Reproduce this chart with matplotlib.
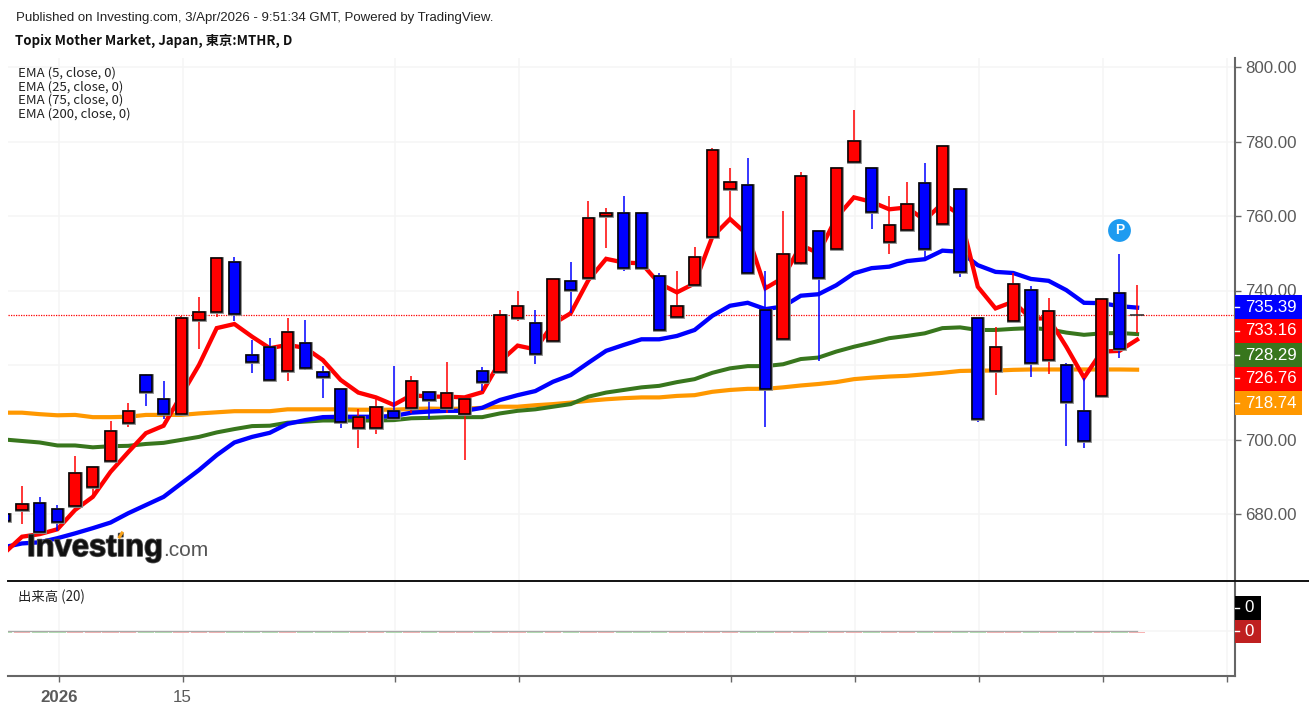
import matplotlib
matplotlib.use("Agg")
import matplotlib.pyplot as plt
from matplotlib.patches import Rectangle
from matplotlib.lines import Line2D
import matplotlib.patheffects as pe

W, H = 1309, 709
plt.rcParams['font.family'] = ['Liberation Sans', 'DejaVu Sans']

# ---------------------------------------------------------------- data
highs = [680.5,687.6,684.5,682.4,695.6,692.7,705.0,709.8,717.5,715.8,733.1,738.3,748.7,749.0,726.7,727.2,
         732.7,732.1,719.8,713.6,708.1,710.8,719.8,717.0,712.8,720.9,710.8,719.4,734.8,740.0,734.8,743.1,
         747.7,764.1,762.1,765.4,760.7,744.8,745.2,751.6,778.3,773.0,775.5,745.2,761.3,771.8,756.0,773.0,
         788.5,773.0,765.4,769.1,774.2,778.9,767.3,732.6,730.3,744.6,741.1,737.9,720.6,716.4,737.7,749.7,741.6]
tops = [680.0,682.7,683.0,681.4,691.1,692.7,702.4,707.6,717.3,710.9,732.6,734.2,748.7,747.7,722.6,724.9,
        728.9,725.8,718.0,713.6,706.0,708.8,707.6,715.6,712.8,712.4,710.8,718.5,733.4,735.8,731.4,743.0,
        742.6,759.5,760.7,760.7,760.7,743.9,735.8,749.1,777.7,769.0,768.4,734.7,749.9,770.8,755.9,772.9,
        780.1,772.9,757.5,763.1,768.8,778.9,767.2,732.5,724.9,741.8,740.2,734.6,720.1,707.6,737.7,739.4,733.4]
bottoms = [678.1,681.1,675.2,677.8,682.2,687.3,694.3,704.3,712.8,706.8,706.8,732.2,734.1,733.8,720.9,716.0,
           718.5,719.2,716.9,704.8,703.2,703.2,705.7,708.5,710.5,708.4,706.8,715.4,718.0,732.5,723.0,726.5,
           740.2,743.4,759.9,746.1,746.1,729.3,733.0,741.4,754.3,767.2,744.6,713.6,726.9,747.5,743.4,751.1,
           774.4,761.2,753.1,756.3,751.1,757.9,745.0,705.5,718.5,731.8,720.5,721.3,710.0,699.6,711.7,724.2,733.4]
lows = [677.0,677.2,675.2,675.5,682.2,684.6,694.0,703.4,709.0,705.4,706.8,724.3,732.8,731.9,717.9,716.0,
        715.6,718.7,711.1,703.0,697.8,701.4,705.2,707.0,705.5,707.0,694.5,713.1,718.0,731.9,720.3,726.4,
        733.9,743.4,751.3,745.3,746.1,729.3,733.0,741.4,754.3,759.5,744.6,703.4,726.9,746.8,721.2,751.1,
        774.4,756.5,749.7,756.3,748.6,757.9,743.7,704.6,711.9,731.8,716.7,717.6,698.2,697.8,711.7,722.0,728.7]
# 1 = red candle, 0 = blue candle, 2 = doji
candle_dir = [0,1,0,0,1,1,1,1,0,0,1,1,1,0,0,0,
              1,0,0,0,1,1,0,1,0,1,1,0,1,1,0,1,
              0,1,1,0,0,0,1,1,1,1,0,0,1,1,0,1,
              1,0,1,1,0,1,0,0,1,1,0,1,0,0,1,0,2]

ema5 = [669.5,673.9,674.6,675.9,681.1,684.6,691.3,696.6,701.7,703.7,711.9,720.0,729.9,731.0,727.6,724.5,
        725.4,724.6,721.3,716.0,712.6,711.3,709.3,711.9,711.5,711.5,711.3,712.7,720.9,725.2,724.2,731.0,
        733.9,742.8,748.5,747.5,747.3,741.9,739.5,741.9,754.4,759.2,754.9,740.6,743.4,752.2,750.0,759.5,
        765.0,763.8,761.8,762.3,758.9,763.4,760.3,741.0,735.2,737.0,732.5,732.5,724.9,716.6,723.6,723.8,726.8]
ema25 = [671.1,672.1,672.4,673.5,674.8,676.2,677.7,680.2,682.4,684.6,688.2,691.8,695.8,699.2,700.7,701.8,
         704.2,705.2,706.0,706.1,706.1,706.1,706.3,707.2,707.5,707.7,707.7,708.5,710.6,711.9,713.0,715.5,
         717.3,720.6,723.8,725.4,726.9,726.9,727.8,729.4,733.2,735.9,736.7,735.0,735.7,738.6,739.0,741.4,
         744.6,746.0,746.4,747.9,748.4,750.7,750.4,746.8,745.0,744.7,743.1,742.6,740.1,736.7,736.6,735.8,735.4]
ema75 = [700.0,699.6,699.2,698.4,698.4,697.9,698.2,698.3,698.8,699.1,699.9,700.7,701.9,702.8,703.6,703.7,
         704.5,704.8,705.1,705.1,705.1,705.1,705.2,705.7,705.8,706.0,706.0,706.0,707.0,707.7,708.1,708.8,
         709.5,711.5,712.6,713.3,714.0,714.4,715.4,716.2,717.9,719.1,719.7,719.7,720.2,721.6,722.0,723.6,
         724.9,726.0,727.2,727.8,728.5,729.9,730.1,729.4,729.4,729.7,729.9,729.6,728.7,728.1,728.5,728.6,728.3]
ema200 = [707.2,707.2,706.8,706.5,706.6,706.0,706.0,706.1,706.6,706.6,706.6,707.0,707.3,707.6,707.6,707.6,
          708.1,708.1,708.1,708.1,708.0,708.0,708.0,708.2,708.3,708.2,708.3,708.5,708.8,708.8,709.2,709.5,
          709.9,710.4,710.8,711.1,711.3,711.3,711.7,711.9,712.8,713.3,713.6,713.6,714.0,714.5,714.9,715.4,
          716.2,716.6,716.9,717.1,717.5,717.9,718.4,718.5,718.5,718.7,718.8,718.8,718.8,718.8,718.8,718.8,718.74]

volume = [0] * len(candle_dir)
volume_ma = [0] * len(candle_dir)

price_ticks = [680, 700, 720, 740, 760, 780, 800]
price_tick_lbl = ['680.00', '700.00', '', '740.00', '760.00', '780.00', '800.00']
x_tick_idx = [2, 9, 21, 28, 40, 47, 54, 61, 68]
x_tick_lbl = ['2026', '15', '', '', '', '', '', '', '']

last_values = ['735.39', '733.16', '728.29', '726.76', '718.74']
last_colors = ['#0000ff', '#ff0000', '#38761d', '#ff0000', '#ff9800']
ema_labels = ['EMA (5, close, 0)', 'EMA (25, close, 0)', 'EMA (75, close, 0)', 'EMA (200, close, 0)']
current_price = 733.4
marker_idx, marker_price = 62, 756.2

title1 = 'Published on Investing.com, 3/Apr/2026 - 9:51:34 GMT, Powered by TradingView.'
title2 = 'Topix Mother Market, Japan, 東京:MTHR, D'

# ---------------------------------------------------------------- layout
PANE_L, PANE_R = 8, 1235
MAIN_T, MAIN_B = 58, 580
VOL_T, VOL_B = 582, 676
X0_PX, STEP_PX = 22.0, 17.7          # px of candle 0, px per candle
Y800_PX, PX_PER_UNIT = 67.0, 3.725

def rect(l, t, r, b):
    return [l / W, 1 - b / H, (r - l) / W, (b - t) / H]

fig = plt.figure(figsize=(W / 100, H / 100), dpi=100, facecolor='white')
ax = fig.add_axes(rect(PANE_L, MAIN_T, PANE_R, MAIN_B))
vx = fig.add_axes(rect(PANE_L, VOL_T, PANE_R, VOL_B), sharex=ax)

xs = list(range(-1, len(candle_dir) - 1))
ax.set_xlim((PANE_L - X0_PX) / STEP_PX, (PANE_R - X0_PX) / STEP_PX)
ax.set_ylim(800 - (MAIN_B - Y800_PX) / PX_PER_UNIT, 800 - (MAIN_T - Y800_PX) / PX_PER_UNIT)

GRID = '#f5f5f5'
AXC = '#666666'
TXT = '#5a5a5a'
for a in (ax, vx):
    for s in ('top', 'left'):
        a.spines[s].set_visible(False)
    a.spines['right'].set_color(AXC)
    a.spines['right'].set_linewidth(1.5)
    a.set_axisbelow(True)
ax.spines['bottom'].set_visible(False)
vx.spines['bottom'].set_color(AXC)
vx.spines['bottom'].set_linewidth(1.5)

ax.yaxis.tick_right()
ax.set_yticks(price_ticks)
ax.set_yticklabels(price_tick_lbl, fontsize=12.2, color=TXT)
ax.tick_params(axis='y', length=4, width=1, color=AXC, pad=3.3)
ax.grid(True, color=GRID, lw=1.1)
ax.set_xticks([i + 0.07 for i in x_tick_idx])
ax.tick_params(axis='x', length=0, labelbottom=False)

vx.set_ylim(-45, 49)
vx.set_yticks([])
vx.grid(True, axis='x', color=GRID, lw=1.1)
vx.axhline(0, color=GRID, lw=1.1, zorder=0)
vx.tick_params(axis='x', length=4, width=1, color=AXC, pad=6, labelbottom=True)
vx.set_xticks([i + 0.07 for i in x_tick_idx])
vx.set_xticklabels(x_tick_lbl, fontsize=12.2, color=TXT)
vx.get_xticklabels()[0].set_fontweight('bold')

# current price line
ax.axhline(current_price, color='#ff0000', lw=0.9, ls=(0, (1, 1)), zorder=1.5)

# EMAs
ax.plot(xs, ema200, color='#ff9800', lw=3.0, zorder=2, solid_joinstyle='miter')
ax.plot(xs, ema75, color='#38761d', lw=2.9, zorder=2.1, solid_joinstyle='miter')
ax.plot(xs, ema25, color='#0000ff', lw=3.1, zorder=2.2, solid_joinstyle='miter')
ax.plot(xs, ema5, color='#ff0000', lw=3.1, zorder=2.3, solid_joinstyle='miter')

# candles
for x, h, t, b, l, d in zip(xs, highs, tops, bottoms, lows, candle_dir):
    c = {0: '#0000ff', 1: '#ff0000', 2: '#ff0000'}[d]
    ax.vlines(x, l, h, color=c, lw=1.1, zorder=3)
    if d == 2:
        ax.hlines(t, x - 0.38, x + 0.38, color='#333333', lw=1.2, zorder=3.2)
    else:
        ax.bar(x, t - b, bottom=b, width=0.64, color=c, edgecolor='#8a8a8a', lw=2.0, zorder=3.1)
        ax.bar(x, t - b, bottom=b, width=0.64, color=c, edgecolor='black', lw=1.1, zorder=3.2)

# marker "P"
ax.scatter([marker_idx], [marker_price], s=270, color='#1e9bf0', zorder=5, lw=0)
ax.text(marker_idx, marker_price, 'P', color='white', fontsize=10, fontweight='bold',
        ha='center', va='center', zorder=6)

# volume pane
vol_cols = {0: '#b4e2b4', 1: '#f8b4b4', 2: '#f8b4b4'}
for x, v, d in zip(xs, volume, candle_dir):
    vx.bar(x, 1.8, bottom=v - 2.4, width=0.92, color=vol_cols[d], lw=0, zorder=2)
vx.plot(xs, volume_ma, color='#a8a8a8', lw=0.9, zorder=3)

# separator
fig.add_artist(Line2D([PANE_L / W, 1], [1 - 581 / H] * 2, color='#111111', lw=1.4, transform=fig.transFigure))

# right hand value labels
def box(l, t, r, b, color, z=10):
    fig.add_artist(Rectangle((l / W, 1 - b / H), (r - l) / W, (b - t) / H, transform=fig.transFigure,
                             facecolor=color, edgecolor='none', zorder=z))

BOX_T, BOX_H = 295, 24
for k, (val, col) in enumerate(zip(last_values, last_colors)):
    t = BOX_T + k * BOX_H
    box(PANE_R, t, 1302, t + BOX_H, col)
    fig.add_artist(Line2D([PANE_R / W, (PANE_R + 4) / W], [1 - (t + 11.5) / H] * 2, color='white', lw=1, zorder=11))
    fig.text(1245.5 / W, 1 - (t + 12) / H, val, color='white', fontsize=12.2, va='center', ha='left', zorder=12)

for t, col in zip((596, 619.5), ('#000000', '#bf2020')):
    box(PANE_R, t, 1261, t + 23.5, col)
    fig.add_artist(Line2D([PANE_R / W, (PANE_R + 4) / W], [1 - (t + 11.5) / H] * 2, color='white', lw=1, zorder=11))
    fig.text(1249.5 / W, 1 - (t + 12) / H, '0', color='white', fontsize=12.2, va='center', ha='center', zorder=12)

# titles and legends
fig.text(16 / W, 1 - 17.5 / H, title1, fontsize=9.55, color='#222222', va='center', ha='left')
fig.text(15 / W, 1 - 40.5 / H, title2, fontsize=9.55, color='#111111', va='center', ha='left', fontweight='bold',
         family=['Noto Sans CJK JP', 'Liberation Sans'])
for k, s in enumerate(ema_labels):
    fig.text(18 / W, 1 - (73 + k * 13.7) / H, s, fontsize=9.5, color='#222222', va='center', ha='left',
             family=['Noto Sans CJK JP', 'Liberation Sans'])
fig.text(18 / W, 1 - 597 / H, '出来高 (20)', fontsize=9.6, color='#222222', va='center', ha='left',
         family=['Noto Sans CJK JP', 'Liberation Sans'])

# watermark
fig.text(27 / W, 1 - 556 / H, 'Investing', fontsize=22.3, fontweight='bold', color='#111111', va='baseline', ha='left',
         zorder=8, path_effects=[pe.withStroke(linewidth=1.2, foreground='#555555')])
fig.text(163.5 / W, 1 - 556 / H, '.com', fontsize=15, color='#555555', va='baseline', ha='left', zorder=8)
fig.add_artist(Line2D([119.5 / W, 122 / W], [1 - 537 / H, 1 - 533 / H], color='#f7a21b', lw=2.2, zorder=9))

fig.savefig('out.png', dpi=100, facecolor='white')
